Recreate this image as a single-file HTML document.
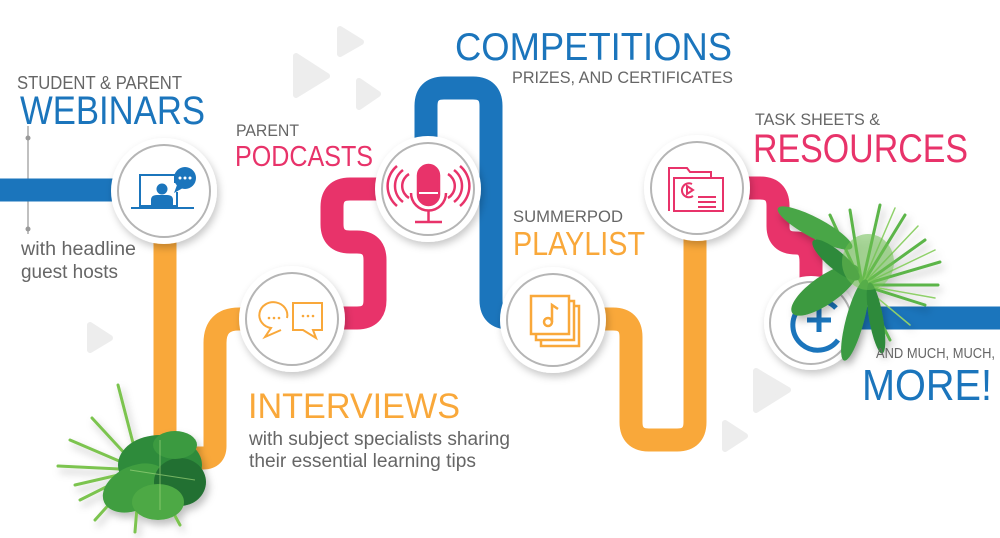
<!DOCTYPE html>
<html><head><meta charset="utf-8"><style>
html,body{margin:0;padding:0;background:#fff;}
svg{display:block;}
text{font-family:"Liberation Sans",sans-serif;}
</style></head><body>
<svg width="1000" height="538" viewBox="0 0 1000 538" xmlns="http://www.w3.org/2000/svg">
<defs>
<filter id="sh" x="-30%" y="-30%" width="160%" height="160%"><feDropShadow dx="2" dy="4" stdDeviation="4" flood-color="#000" flood-opacity="0.22"/></filter>
<filter id="psh" x="-30%" y="-30%" width="160%" height="160%"><feDropShadow dx="3" dy="5" stdDeviation="4" flood-color="#000" flood-opacity="0.25"/></filter>
</defs>
<g fill="#ededed" stroke="#ededed" stroke-width="6" stroke-linejoin="round">
<polygon points="296,56 296,95 327,76"/>
<polygon points="340,29 340,54 361,42"/>
<polygon points="359,81 359,107 378,94"/>
<polygon points="90,325 90,350 110,338"/>
<polygon points="756,371 756,410 788,390"/>
<polygon points="725,423 725,449 745,436"/>
</g>
<line x1="28" y1="126" x2="28" y2="234" stroke="#aaa" stroke-width="1.5"/>
<circle cx="28" cy="138" r="2.5" fill="#999"/><circle cx="28" cy="229" r="2.5" fill="#999"/>
<g fill="none" stroke-width="23">
<path d="M0,190 H140" stroke="#1b75bc"/>
<path d="M165,220 V446 Q165,458 177,458 H203 Q215,458 215,446 V343 Q215,319 239,319 H292" stroke="#f9a83a"/>
<path d="M428,189 H350 Q332,189 332,207 V224 Q332,242 350,242 H357 Q375,242 375,260 V300 Q375,318 357,318 H292" stroke="#e8336a"/>
<path d="M426,189 V106 Q426,88 444,88 H473 Q491,88 491,106 V300 Q491,318 509,318 H552" stroke="#1b75bc"/>
<path d="M552,319 H613 Q631,319 631,337 V422 Q631,440 649,440 H677 Q695,440 695,422 V188" stroke="#f9a83a"/>
<path d="M697,188 H760 Q778,188 778,206 V226 Q778,243 796,243 Q811,243 811,262 V323" stroke="#e8336a"/>
<path d="M811,318 H1000" stroke="#1b75bc"/>
</g>
<g>
<circle cx="164" cy="191" r="53" fill="#fff" filter="url(#sh)"/><circle cx="164" cy="191" r="46" fill="#fff" stroke="#b5b5b5" stroke-width="2"/>
<circle cx="428" cy="189" r="53" fill="#fff" filter="url(#sh)"/><circle cx="428" cy="189" r="46" fill="#fff" stroke="#b5b5b5" stroke-width="2"/>
<circle cx="292" cy="319" r="53" fill="#fff" filter="url(#sh)"/><circle cx="292" cy="319" r="46" fill="#fff" stroke="#b5b5b5" stroke-width="2"/>
<circle cx="553" cy="320" r="53" fill="#fff" filter="url(#sh)"/><circle cx="553" cy="320" r="46" fill="#fff" stroke="#b5b5b5" stroke-width="2"/>
<circle cx="697" cy="188" r="53" fill="#fff" filter="url(#sh)"/><circle cx="697" cy="188" r="46" fill="#fff" stroke="#b5b5b5" stroke-width="2"/>
<circle cx="811" cy="323" r="47" fill="#fff" filter="url(#sh)"/><circle cx="811" cy="323" r="41" fill="#fff" stroke="#b5b5b5" stroke-width="2"/>
</g>
<g stroke="#1b75bc" fill="none" stroke-width="2">
<path d="M175,183 V175 H140 V206 H177 V192"/>
<line x1="131" y1="208" x2="194" y2="208"/>
</g>
<g fill="#1b75bc">
<circle cx="162" cy="189" r="5.5"/>
<path d="M151,206 V200 Q151,195 157,195 H167 Q173,195 173,200 V206 Z"/>
<circle cx="185" cy="178" r="11"/><path d="M177,185 L174,193 L183,188 Z"/>
</g>
<g fill="#fff"><circle cx="180" cy="178" r="1.5"/><circle cx="185" cy="178" r="1.5"/><circle cx="190" cy="178" r="1.5"/></g>
<g stroke="#e8336a" fill="none" stroke-width="2.5">
<rect x="418" y="165" width="21" height="40" rx="10.5" fill="#e8336a"/>
<path d="M411,193 A17.5,17.5 0 0 0 446,193"/>
<line x1="428.5" y1="211" x2="428.5" y2="222"/><line x1="415" y1="222" x2="442" y2="222"/>
<path d="M409,174 A14,14 0 0 0 409,198"/><path d="M403,170 A20,20 0 0 0 403,202"/><path d="M397,166 A26,26 0 0 0 397,206"/>
<path d="M448,174 A14,14 0 0 1 448,198"/><path d="M454,170 A20,20 0 0 1 454,202"/><path d="M460,166 A26,26 0 0 1 460,206"/>
</g>
<line x1="419" y1="193" x2="438" y2="193" stroke="#fff" stroke-width="2"/>
<g stroke="#f9a83a" fill="none" stroke-width="2">
<path d="M287,318 A14,13 0 1 0 271,328 L265,337 L281,330"/>
<path d="M293,303 H322 V330 H313 L316,338 L303,330 H293 Z"/>
</g>
<g fill="#f9a83a"><circle cx="269" cy="318" r="1.3"/><circle cx="274" cy="318" r="1.3"/><circle cx="279" cy="318" r="1.3"/>
<circle cx="303" cy="316" r="1.3"/><circle cx="308" cy="316" r="1.3"/><circle cx="313" cy="316" r="1.3"/></g>
<g stroke="#f9a83a" fill="none" stroke-width="2.5">
<rect x="531" y="296" width="38" height="38"/>
<path d="M569,301 H574 V340 H536 V334"/>
<path d="M574,306 H579 V346 H541 V340"/>
<circle cx="548" cy="322" r="4"/><path d="M552,322 V305 L558,309"/>
</g>
<g stroke="#e8336a" fill="none" stroke-width="2">
<path d="M669,211 V168 H687 L690,172 H711 V178"/>
<path d="M674,211 V178 H723 V211 Z"/>
<path d="M692,184 A7,7 0 1 0 693,196"/><path d="M687,186 L693,190 L687,194 Z"/>
<line x1="698" y1="197" x2="716" y2="197"/><line x1="698" y1="202" x2="716" y2="202"/><line x1="698" y1="207" x2="716" y2="207"/>
</g>
<g stroke="#1b75bc" fill="none" stroke-width="5">
<path d="M836,308 A25,25 0 1 0 838,340"/>
<line x1="807" y1="320" x2="831" y2="320"/><line x1="819" y1="308" x2="819" y2="332"/>
</g>
<!-- bottom-left plant -->
<g filter="url(#psh)">
<g stroke="#7cc44f" stroke-width="3" fill="none" stroke-linecap="round">
<line x1="140" y1="470" x2="70" y2="440"/><line x1="140" y1="470" x2="58" y2="466"/><line x1="140" y1="470" x2="80" y2="500"/>
<line x1="140" y1="470" x2="95" y2="520"/><line x1="140" y1="470" x2="135" y2="532"/><line x1="140" y1="470" x2="92" y2="418"/>
<line x1="140" y1="470" x2="118" y2="385"/><line x1="150" y1="470" x2="180" y2="525"/><line x1="140" y1="470" x2="75" y2="485"/>
</g>
<ellipse cx="160" cy="465" rx="42" ry="30" fill="#2e8b3a"/>
<ellipse cx="135" cy="488" rx="34" ry="22" fill="#3f9e41" transform="rotate(-25 135 488)"/>
<ellipse cx="180" cy="482" rx="26" ry="24" fill="#236f30"/>
<ellipse cx="158" cy="502" rx="26" ry="18" fill="#4ea944"/>
<ellipse cx="175" cy="445" rx="22" ry="14" fill="#3a9a3f"/>
<g stroke="#9ad37a" stroke-width="1" fill="none" opacity="0.7">
<line x1="160" y1="440" x2="160" y2="510"/><line x1="130" y1="470" x2="195" y2="480"/>
</g>
</g>
<!-- right plant -->
<g filter="url(#psh)">
<g stroke="#5cb548" stroke-width="3" fill="none" stroke-linecap="round">
<line x1="862" y1="285" x2="880" y2="205"/><line x1="862" y1="285" x2="905" y2="215"/>
<line x1="862" y1="285" x2="925" y2="240"/><line x1="862" y1="285" x2="940" y2="262"/>
<line x1="862" y1="285" x2="938" y2="285"/><line x1="862" y1="285" x2="925" y2="305"/>
<line x1="862" y1="285" x2="890" y2="340"/><line x1="862" y1="285" x2="850" y2="210"/>
<line x1="862" y1="285" x2="830" y2="215"/>
</g>
<g stroke="#8fd06a" stroke-width="1.5" fill="none" stroke-linecap="round">
<line x1="862" y1="285" x2="895" y2="208"/><line x1="862" y1="285" x2="918" y2="226"/><line x1="862" y1="285" x2="935" y2="250"/>
<line x1="862" y1="285" x2="935" y2="298"/><line x1="862" y1="285" x2="910" y2="325"/>
</g>
<ellipse cx="815" cy="228" rx="42" ry="10" fill="#4aa646" transform="rotate(28 815 228)"/>
<ellipse cx="825" cy="290" rx="40" ry="14" fill="#3d9a3f" transform="rotate(-35 825 290)"/>
<ellipse cx="836" cy="260" rx="30" ry="9" fill="#2f8a3a" transform="rotate(40 836 260)"/>
<ellipse cx="855" cy="320" rx="9" ry="42" fill="#3b9a42" transform="rotate(15 855 320)"/>
<ellipse cx="876" cy="318" rx="7" ry="36" fill="#2e8a3a" transform="rotate(-10 876 318)"/>
<ellipse cx="868" cy="262" rx="26" ry="28" fill="#6dbd52" opacity="0.55"/>
</g>
<g fill="#666">
<text x="17" y="89" font-size="18" textLength="165" lengthAdjust="spacingAndGlyphs">STUDENT &amp; PARENT</text>
<text x="21" y="255" font-size="19" textLength="115" lengthAdjust="spacingAndGlyphs">with headline</text>
<text x="21" y="278" font-size="19" textLength="97" lengthAdjust="spacingAndGlyphs">guest hosts</text>
<text x="236" y="136" font-size="17" textLength="63" lengthAdjust="spacingAndGlyphs">PARENT</text>
<text x="512" y="83" font-size="17" textLength="221" lengthAdjust="spacingAndGlyphs">PRIZES, AND CERTIFICATES</text>
<text x="513" y="222" font-size="17" textLength="110" lengthAdjust="spacingAndGlyphs">SUMMERPOD</text>
<text x="755" y="125" font-size="17" textLength="125" lengthAdjust="spacingAndGlyphs">TASK SHEETS &amp;</text>
<text x="249" y="445" font-size="19" textLength="261" lengthAdjust="spacingAndGlyphs">with subject specialists sharing</text>
<text x="249" y="467" font-size="19" textLength="227" lengthAdjust="spacingAndGlyphs">their essential learning tips</text>
<text x="876" y="358" font-size="15" textLength="119" lengthAdjust="spacingAndGlyphs">AND MUCH, MUCH,</text>
</g>
<text x="20" y="124" font-size="40" fill="#1b75bc" textLength="185" lengthAdjust="spacingAndGlyphs">WEBINARS</text>
<text x="235" y="166" font-size="29" fill="#e8336a" textLength="138" lengthAdjust="spacingAndGlyphs">PODCASTS</text>
<text x="455" y="60" font-size="39" fill="#1b75bc" textLength="277" lengthAdjust="spacingAndGlyphs">COMPETITIONS</text>
<text x="513" y="255" font-size="33" fill="#f9a83a" textLength="132" lengthAdjust="spacingAndGlyphs">PLAYLIST</text>
<text x="753" y="162" font-size="40" fill="#e8336a" textLength="215" lengthAdjust="spacingAndGlyphs">RESOURCES</text>
<text x="248" y="418" font-size="35" fill="#f9a83a" textLength="212" lengthAdjust="spacingAndGlyphs">INTERVIEWS</text>
<text x="862" y="400" font-size="44" fill="#1b75bc" textLength="130" lengthAdjust="spacingAndGlyphs">MORE!</text>
</svg>
</body></html>
